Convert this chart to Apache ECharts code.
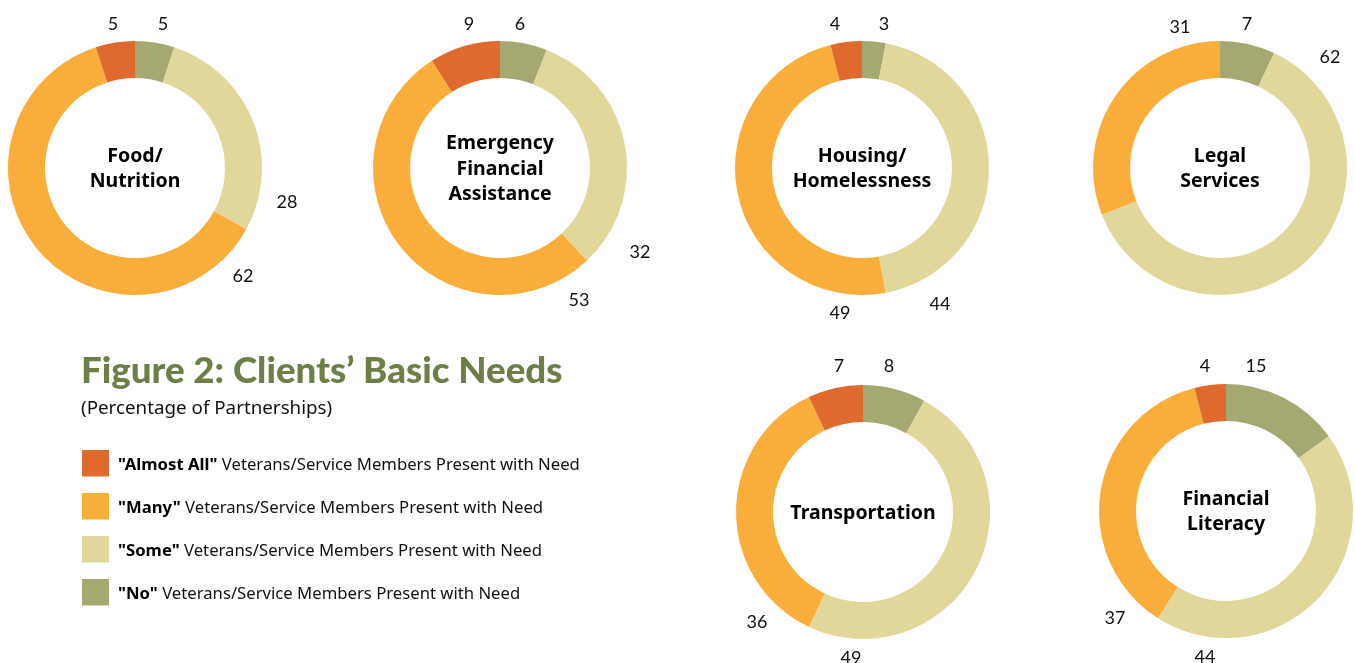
<!DOCTYPE html>
<html>
<head>
<meta charset="utf-8">
<script src="https://cdn.jsdelivr.net/npm/echarts@6/dist/echarts.min.js"></script>
<style>
  html, body { margin: 0; padding: 0; background: #fff; }
  #chart { width: 1355px; height: 663px; }
</style>
</head>
<body>
<div id="chart"></div>
<script>
// data
var needs = ['Food/\nNutrition', 'Emergency\nFinancial\nAssistance', 'Housing/\nHomelessness',
             'Legal\nServices', 'Transportation', 'Financial\nLiteracy']
var levels = ['Almost All', 'Many', 'Some', 'No']
var almostAllVals = [5, 9, 4, 0, 7, 4]
var manyVals = [62, 53, 49, 31, 36, 37]
var someVals = [28, 32, 44, 62, 49, 44]
var noVals = [5, 6, 3, 7, 8, 15]

// layout
var centers = [[135, 168], [500, 168], [862, 168], [1220, 168], [863, 512], [1226, 511]]
// label offsets from the pie centre, in slice order No, Some, Many, Almost All
var labelOffsets = [
    [[28, -144], [152, 34], [108, 108], [-22, -144]],
    [[20, -144], [140, 84], [79, 132], [-31, -144]],
    [[22, -144], [78, 136], [-22, 145], [-27, -144]],
    [[27, -144], [110, -111], [-40, -141], null],
    [[26, -146], [-12, 146], [-106, 110], [-24, -146]],
    [[30, -145], [-21, 146], [-111, 107], [-21, -145]]
]
var colors = {
    'Almost All': '#DF6A2E',
    'Many': '#F9AE3B',
    'Some': '#E1D79A',
    'No': '#A5A871'
}
var numFont = 'Lato, "Noto Sans", sans-serif'
var textFont = '"Noto Sans", "Open Sans", sans-serif'

var chart = echarts.init(document.getElementById('chart'))

var series = needs.map(function (name, i) {
    var vals = [['No', noVals[i]], ['Some', someVals[i]], ['Many', manyVals[i]], ['Almost All', almostAllVals[i]]]
    return {
        type: 'pie',
        name: name,
        center: centers[i],
        radius: [90, 127],
        startAngle: 90,
        clockwise: true,
        avoidLabelOverlap: false,
        silent: true,
        label: {
            show: true,
            position: 'outside',
            formatter: '{c}',
            color: '#111',
            fontSize: 18,
            fontFamily: numFont
        },
        labelLine: { show: false },
        labelLayout: function (p) {
            var off = labelOffsets[i][p.dataIndex]
            if (!off) return {}
            return {
                x: centers[i][0] + off[0],
                y: centers[i][1] + off[1],
                align: 'center',
                verticalAlign: 'middle'
            }
        },
        data: vals.map(function (v) {
            return {
                name: v[0],
                value: v[1],
                itemStyle: { color: colors[v[0]] },
                label: { show: v[1] > 0 }
            }
        })
    }
})

var centerTexts = needs.map(function (name, i) {
    return {
        type: 'text',
        x: centers[i][0],
        y: centers[i][1] + 1,
        style: {
            text: name,
            align: 'center',
            verticalAlign: 'middle',
            fontFamily: textFont,
            fontWeight: 'bold',
            fontSize: 19.5,
            lineHeight: 25.5,
            fill: '#000'
        }
    }
})

var option = {
    backgroundColor: '#fff',
    color: levels.map(function (l) { return colors[l] }),
    legend: {
        orient: 'vertical',
        left: 77,
        top: 445,
        itemWidth: 27,
        itemHeight: 26.5,
        itemGap: 16.5,
        icon: 'rect',
        selectedMode: false,
        data: levels,
        formatter: function (name) {
            return '{b|"' + name + '"} Veterans/Service Members Present with Need'
        },
        textStyle: {
            fontFamily: textFont,
            fontSize: 16.7,
            color: '#111',
            padding: [3, 0, 0, 4],
            rich: {
                b: { fontFamily: textFont, fontSize: 16.7, fontWeight: 'bold', color: '#000' }
            }
        }
    },
    graphic: centerTexts.concat([
        {
            type: 'text',
            x: 81,
            y: 371,
            style: {
                text: 'Figure 2: Clients\u2019 Basic Needs',
                verticalAlign: 'middle',
                fontFamily: numFont,
                fontWeight: 900,
                fontSize: 36.7,
                fill: '#6B7F47'
            }
        },
        {
            type: 'text',
            x: 81,
            y: 409,
            style: {
                text: '(Percentage of Partnerships)',
                verticalAlign: 'middle',
                fontFamily: textFont,
                fontSize: 18.8,
                fill: '#111'
            }
        }
    ]),
    series: series
}

chart.setOption(option)
</script>
</body>
</html>
